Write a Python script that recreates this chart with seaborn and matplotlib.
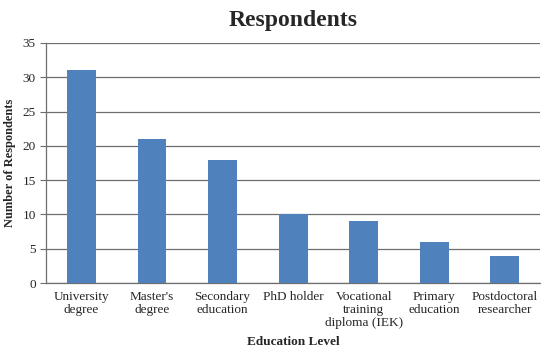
import matplotlib
matplotlib.use("Agg")
import matplotlib.pyplot as plt
import seaborn as sns
import pandas as pd
import numpy as np

categories = ["University\ndegree", "Master's\ndegree", "Secondary\neducation", "PhD holder",
              "Vocational\ntraining\ndiploma (IEK)", "Primary\neducation", "Postdoctoral\nresearcher"]
respondents = [31, 21, 18, 10, 9, 6, 4]

sns.set_style("white")
plt.rcParams['font.family'] = ['Liberation Serif', 'DejaVu Serif']

df = pd.DataFrame({"level": categories, "count": respondents})

fig = plt.figure(figsize=(5.5, 3.61), dpi=100)
ax = fig.add_axes([0.084, 0.216, 0.898, 0.665])

sns.barplot(data=df, x="level", y="count", color="#4F81BD", saturation=1,
            width=0.41, ax=ax, zorder=3, edgecolor="none")

ax.set_ylim(0, 35)
ax.set_yticks(range(0, 36, 5))
ax.set_xlim(-0.5, len(categories) - 0.5)
ax.yaxis.grid(True, color="#6e6e6e", linewidth=0.9, zorder=0)
ax.set_axisbelow(True)

for s in ["top", "right"]:
    ax.spines[s].set_visible(False)
for s in ["left", "bottom"]:
    ax.spines[s].set_color("#6e6e6e")
    ax.spines[s].set_linewidth(0.9)

ax.set_xticks(np.arange(-0.5, len(categories)), minor=True)
ax.tick_params(axis="x", which="major", length=0, pad=6, labelsize=9.5)
ax.tick_params(axis="x", which="minor", length=4, color="#6e6e6e", direction="out")
ax.tick_params(axis="y", length=4, color="#6e6e6e", direction="out", labelsize=9.5, left=True)
for lbl in ax.get_xticklabels():
    lbl.set_linespacing(1.1)

ax.set_title("Respondents", fontsize=17, fontweight="bold", pad=12)
ax.set_ylabel("Number of Respondents", fontsize=9, fontweight="bold")
ax.yaxis.set_label_coords(-0.062, 0.5)
ax.set_xlabel("Education Level", fontsize=9.5, fontweight="bold", labelpad=5)

fig.savefig("out.png", dpi=100)
